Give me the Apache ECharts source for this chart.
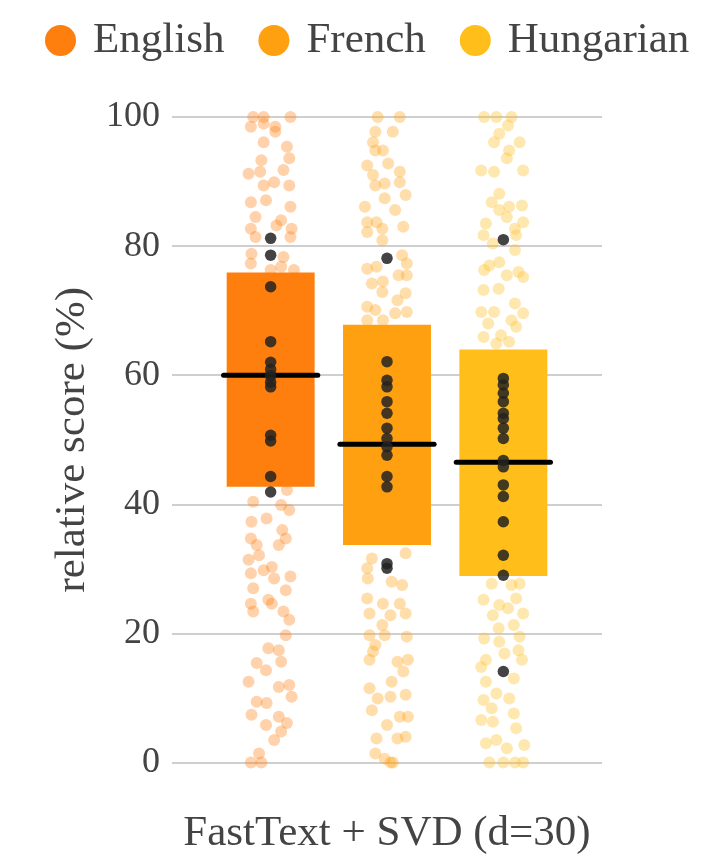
<!DOCTYPE html>
<html><head><meta charset="utf-8">
<script src="https://cdn.jsdelivr.net/npm/echarts@6/dist/echarts.min.js"></script>
<style>html,body{margin:0;padding:0;background:#fff}#c{width:713px;height:858px}</style>
</head><body><div id="c"></div>
<script>
const languages = ['English', 'French', 'Hungarian'];
const colors = ['#ff7f0e', '#ffa010', '#ffbe1a'];
const yTicks = [0, 20, 40, 60, 80, 100];
const xLabel = 'FastText + SVD (d=30)';
const yLabel = 'relative score (%)';
// box statistics: [q1, median, q3]
const boxEnglish = [42.7, 60.0, 75.9];
const boxFrench = [33.7, 49.3, 67.8];
const boxHungarian = [28.9, 46.5, 64.0];
// highlighted (black) points, values
const blackEnglish = [81.2, 78.6, 73.7, 65.2, 62.0, 60.9, 59.9, 58.9, 58.2, 50.7, 49.8, 44.3, 41.9];
const blackFrench = [78.1, 62.1, 59.2, 58.2, 55.9, 54.1, 51.8, 50.2, 48.9, 47.6, 44.3, 42.7, 30.8, 30.1];
const blackHungarian = [81.0, 59.5, 58.5, 57.2, 55.9, 54.1, 53.3, 51.8, 50.2, 46.8, 45.8, 43.0, 41.2, 37.3, 32.1, 29.0, 14.1];
// faded jittered points: [value, jitter (fraction of category step)]
const fadedEnglish = [[100,-0.15],[100,-0.06],[100,0.17],[98.5,-0.17],[98.5,0.04],[99,-0.06],[97.7,0.04],[96.1,-0.06],[95.4,0.14],[93.6,0.16],[93.3,-0.08],[91.2,-0.19],[91.5,-0.09],[91.8,0.11],[89.9,0.03],[89.4,-0.06],[89.4,0.16],[86.8,-0.17],[87.1,-0.04],[86.1,0.17],[84.5,-0.13],[84.0,0.09],[83.2,0.05],[82.7,0.18],[82.7,-0.17],[81.4,-0.13],[81.4,0.17],[78.8,-0.165],[78.3,0.11],[77.3,-0.17],[76.8,0.09],[76.3,0.2],[76.3,0],
[42.2,0.14],[40.4,-0.15],[39.9,0.09],[39.1,0.16],[37.3,-0.165],[37.8,-0.035],[36.0,0.10],[34.7,-0.17],[34.7,0.13],[33.7,-0.12],[33.7,0.07],[32.1,-0.10],[31.4,-0.19],[30.3,0.01],[29.8,-0.06],[29.3,-0.17],[28.8,0.17],[28.5,0.03],[27.0,-0.15],[26.7,0.13],[25.2,-0.02],[24.6,-0.17],[24.6,0.01],[23.4,-0.15],[23.4,0.11],[22.1,0.16],[19.7,0.13],[17.7,-0.02],[17.4,0.07],[15.6,0.09],[15.4,-0.12],[14.3,-0.04],[12.5,-0.19],[11.7,0.07],[12.0,0.16],[9.4,-0.12],[10.2,0.18],[9.2,-0.035],[7.4,-0.165],[7.1,0.07],[6.1,0.14],[5.8,-0.04],[4.8,0.09],[3.5,0.03],[1.4,-0.10],[0,-0.17],[0,-0.08]];
const fadedFrench = [[100,-0.08],[100,0.11],[97.7,-0.10],[97.7,0.05],[96.1,-0.12],[94.8,-0.10],[94.8,-0.035],[92.5,-0.17],[92.8,0.01],[91.0,-0.12],[91.5,0.11],[89.7,-0.02],[89.4,-0.10],[89.9,0.11],[87.4,-0.02],[87.9,0.16],[86.1,-0.19],[85.6,0.07],[83.7,-0.17],[83.7,-0.09],[83.0,0.14],[82.7,-0.04],[82.2,-0.17],[80.9,-0.04],[76.5,-0.17],[78.6,0.13],[77.3,0.17],[76.8,-0.09],[75.5,0.10],[75.5,0.17],[74.2,-0.13],[74.5,-0.035],[72.9,-0.04],[72.7,0.16],[71.6,0.09],[70.6,-0.17],[70.1,-0.10],[69.8,0.17],[69.6,0.07],[68.5,-0.17],[68.5,-0.035],
[31.6,-0.13],[32.4,0.16],[30.1,-0.17],[28.5,-0.165],[28.0,0.04],[27.5,0.13],[25.4,-0.17],[24.6,-0.035],[24.6,0.11],[23.1,-0.15],[22.8,0.03],[23.1,0.16],[21.3,-0.04],[19.7,-0.15],[19.7,-0.02],[19.5,0.17],[18.2,-0.10],[17.2,-0.12],[15.9,-0.15],[15.6,0.09],[15.9,0.18],[14.1,0.14],[12.5,0.04],[11.5,-0.15],[9.9,-0.08],[10.2,0.03],[10.5,0.16],[8.1,-0.13],[5.8,0],[7.1,0.11],[7.1,0.18],[3.7,-0.09],[3.7,0.09],[4.0,0.16],[1.4,-0.10],[0.6,-0.02],[0,0.05],[0,0.03]];
const fadedHungarian = [[100,-0.165],[100,-0.06],[100,0.07],[98.7,0.04],[97.4,-0.035],[96.1,-0.08],[96.1,0.14],[94.8,0.05],[93.6,0.03],[91.7,-0.19],[91.5,-0.08],[91.7,0.17],[88.1,-0.035],[86.8,-0.10],[86.1,0.05],[86.3,0.16],[85.6,-0.035],[84.5,0.03],[83.5,-0.15],[83.7,0.17],[82.7,0.10],[81.7,-0.17],[81.7,0.11],[80.4,-0.09],[79.4,0.10],[77.5,-0.035],[76.3,-0.165],[77.0,-0.12],[76.0,0.13],[75.5,0.03],[75.2,0.17],[73.2,-0.17],[73.4,-0.04],[71.1,0.10],[69.8,-0.19],[69.8,-0.08],[69.6,0.17],[68.5,0.07],[68.0,-0.13],[67.5,0.11],[65.9,-0.17],[66.2,-0.02],[64.9,-0.06],[65.2,0.05],
[27.7,-0.10],[27.5,0.07],[27.7,0.14],[25.2,-0.17],[25.4,0.11],[24.4,-0.035],[22.8,-0.09],[23.9,0.04],[23.1,0.17],[20.8,-0.04],[21.3,0.09],[19.2,-0.165],[18.7,-0.035],[19.5,0.14],[16.9,0.01],[17.4,0.13],[15.9,-0.15],[15.9,0.16],[14.8,-0.19],[12.5,-0.15],[13.0,0.09],[10.7,-0.06],[9.9,0.05],[9.7,-0.17],[8.4,-0.10],[7.6,0.09],[6.6,-0.19],[6.3,-0.09],[5.3,0.11],[3.0,-0.15],[3.5,-0.06],[2.7,0.18],[2.2,0.03],[0,-0.12],[0,0],[0,0.10],[0,0.17]];

const boxes = [boxEnglish, boxFrench, boxHungarian];
const blacks = [blackEnglish, blackFrench, blackHungarian];
const fadeds = [fadedEnglish, fadedFrench, fadedHungarian];
const FONT = '"Liberation Serif", "DejaVu Serif", serif';
const TXT = '#444';
const BOX_HALF = 0.378, MED_HALF = 0.405;

const series = [];
languages.forEach((lang, i) => {
  const cx = i + 1;
  series.push({
    name: lang, type: 'scatter', z: 1, symbolSize: 12,
    itemStyle: { color: colors[i], opacity: 0.35 },
    data: fadeds[i].map(p => [cx + p[1], p[0]]), silent: true
  });
  series.push({
    name: lang, type: 'custom', z: 2,
    data: [[cx, boxes[i][0], boxes[i][1], boxes[i][2]]],
    renderItem: (params, api) => {
      const x = api.value(0);
      const p1 = api.coord([x - BOX_HALF, api.value(3)]);
      const p2 = api.coord([x + BOX_HALF, api.value(1)]);
      const m1 = api.coord([x - MED_HALF, api.value(2)]);
      const m2 = api.coord([x + MED_HALF, api.value(2)]);
      return { type: 'group', children: [
        { type: 'rect', shape: { x: p1[0], y: p1[1], width: p2[0] - p1[0], height: p2[1] - p1[1] }, style: { fill: colors[i] } },
        { type: 'line', shape: { x1: m1[0], y1: m1[1], x2: m2[0], y2: m2[1] }, style: { stroke: '#000', lineWidth: 5, lineCap: 'round' }, z2: 10 }
      ]};
    }, silent: true
  });
  series.push({
    name: lang, type: 'scatter', z: 3, symbolSize: 11.5,
    itemStyle: { color: '#222', opacity: 0.85 },
    data: blacks[i].map(v => [cx, v]), silent: true
  });
});

const chart = echarts.init(document.getElementById('c'));
chart.setOption({
  animation: false,
  legend: {
    left: 40, top: 14, icon: 'circle', itemWidth: 31, itemHeight: 31, itemGap: 34,
    textStyle: { fontFamily: FONT, fontSize: 43, color: TXT, padding: [0, 0, 0, 12] },
    data: languages.map((l, i) => ({ name: l, itemStyle: { color: colors[i], opacity: 1 } })),
    selectedMode: false
  },
  grid: { left: 172, right: 111, top: 117, bottom: 95.5, containLabel: false, outerBoundsMode: 'none' },
  xAxis: {
    type: 'value', min: 0.152, max: 3.848,
    axisLine: { show: false }, axisTick: { show: false }, axisLabel: { show: false }, splitLine: { show: false },
    name: xLabel, nameLocation: 'middle', nameGap: 50,
    nameTextStyle: { fontFamily: FONT, fontSize: 43, color: TXT }
  },
  yAxis: {
    type: 'value', min: 0, max: 100, interval: 20,
    axisLine: { show: false }, axisTick: { show: false },
    axisLabel: { fontFamily: FONT, fontSize: 36, color: TXT, margin: 12, formatter: v => yTicks.includes(v) ? String(v) : '' },
    splitLine: { lineStyle: { color: '#cfcfcf', width: 2 } },
    name: yLabel, nameLocation: 'middle', nameGap: 78, nameRotate: 90,
    nameTextStyle: { fontFamily: FONT, fontSize: 43, color: TXT }
  },
  series
});
</script></body></html>
